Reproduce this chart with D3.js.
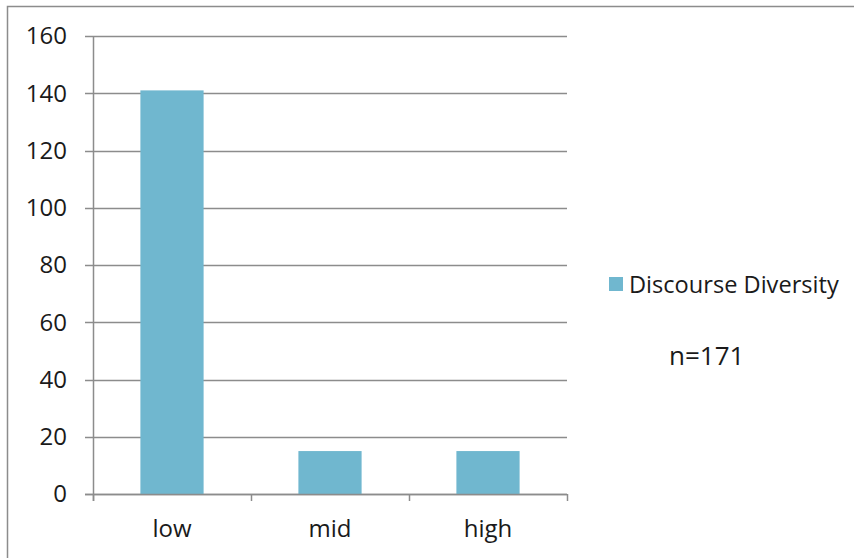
<!DOCTYPE html>
<html>
<head>
<meta charset="utf-8">
<script src="https://cdn.jsdelivr.net/npm/d3@7"></script>
<style>
  html, body { margin: 0; padding: 0; background: #fff; }
  svg { display: block; }
  text { font-family: "Open Sans", "Noto Sans", sans-serif; fill: #1a1a1a; }
</style>
</head>
<body>
<svg id="chart" width="854" height="558"></svg>
<script>
// Discourse diversity counts per level (n=171)
const categories = ["low", "mid", "high"];
const counts = [141, 15, 15];
const yTicks = [0, 20, 40, 60, 80, 100, 120, 140, 160];
const seriesName = "Discourse Diversity";
const noteText = "n=171";

const W = 854, H = 558;
const plot = { left: 93, right: 567, top: 36, bottom: 494 };
const barColor = "#70b7cf";
const lineColor = "#8c8c8c";

const svg = d3.select("#chart");

// Chart frame (left and top edges visible)
svg.append("path")
  .attr("d", `M7.5,${H} V6.5 H${W}`)
  .attr("fill", "none")
  .attr("stroke", "#8c8c8c")
  .attr("stroke-width", 1.5);

const x = d3.scaleBand()
  .domain(categories)
  .range([plot.left, plot.right])
  .paddingInner(0.6)
  .paddingOuter(0.3);

const xOuter = d3.scaleBand()
  .domain(categories)
  .range([plot.left, plot.right]);

const y = d3.scaleLinear()
  .domain([0, 160])
  .range([plot.bottom, plot.top]);

// Horizontal gridlines with left ticks
const grid = svg.append("g");
grid.selectAll("line")
  .data(yTicks)
  .join("line")
  .attr("x1", plot.left - 8)
  .attr("x2", plot.right)
  .attr("y1", d => Math.round(y(d)) + 0.5)
  .attr("y2", d => Math.round(y(d)) + 0.5)
  .attr("stroke", lineColor)
  .attr("stroke-width", 1.5);

// Y tick labels
svg.append("g").selectAll("text")
  .data(yTicks)
  .join("text")
  .attr("x", plot.left - 26)
  .attr("y", d => y(d))
  .attr("dy", "0.35em")
  .attr("text-anchor", "end")
  .attr("font-size", 24)
  .text(d => d);

// Bars
svg.append("g").selectAll("rect")
  .data(categories.map((c, i) => ({ c, v: counts[i] })))
  .join("rect")
  .attr("x", d => x(d.c))
  .attr("width", x.bandwidth())
  .attr("y", d => y(d.v))
  .attr("height", d => y(0) - y(d.v))
  .attr("fill", barColor);

// Y axis line
svg.append("line")
  .attr("x1", plot.left + 0.5).attr("x2", plot.left + 0.5)
  .attr("y1", plot.top).attr("y2", plot.bottom + 7)
  .attr("stroke", lineColor).attr("stroke-width", 1.5);

// X axis baseline and category separators
svg.append("line")
  .attr("x1", plot.left - 8).attr("x2", plot.right)
  .attr("y1", Math.round(y(0)) + 0.5).attr("y2", Math.round(y(0)) + 0.5)
  .attr("stroke", lineColor).attr("stroke-width", 1.5);

const sepX = categories.map(c => xOuter(c) + xOuter.bandwidth()).concat([plot.left]);
svg.append("g").selectAll("line")
  .data(sepX)
  .join("line")
  .attr("x1", d => d + 0.5).attr("x2", d => d + 0.5)
  .attr("y1", plot.bottom).attr("y2", plot.bottom + 7)
  .attr("stroke", lineColor).attr("stroke-width", 1.5);

// Category labels
svg.append("g").selectAll("text")
  .data(categories)
  .join("text")
  .attr("x", d => xOuter(d) + xOuter.bandwidth() / 2)
  .attr("y", 537)
  .attr("text-anchor", "middle")
  .attr("font-size", 24)
  .text(d => d);

// Legend
svg.append("rect")
  .attr("x", 609).attr("y", 277)
  .attr("width", 14).attr("height", 14)
  .attr("fill", barColor);
svg.append("text")
  .attr("x", 629).attr("y", 293)
  .attr("font-size", 23.6)
  .text(seriesName);

// Sample size note
svg.append("text")
  .attr("x", 669).attr("y", 365)
  .attr("font-size", 26)
  .text(noteText);
</script>
</body>
</html>
